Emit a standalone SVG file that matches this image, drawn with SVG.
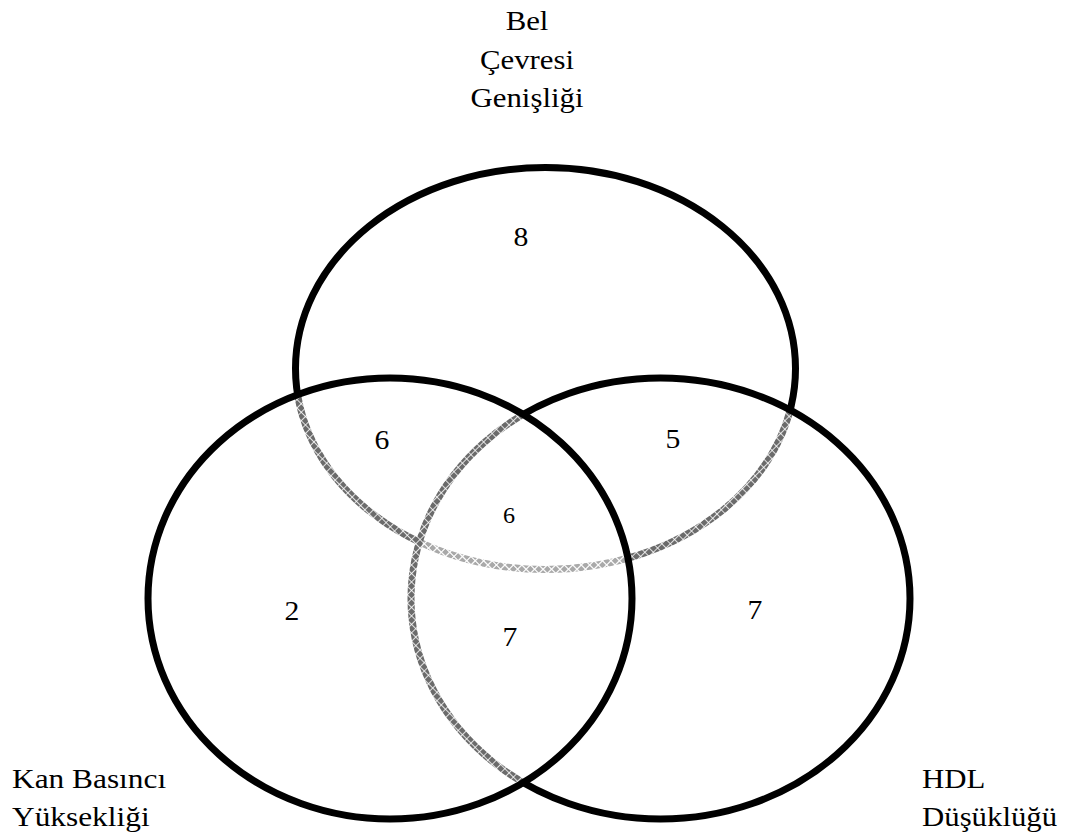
<svg xmlns="http://www.w3.org/2000/svg" width="1071" height="839" viewBox="0 0 1071 839">
<style>
.ring{stroke:#000;stroke-width:7}
.lbl{font-family:"Liberation Serif","Times New Roman",serif;font-size:28px;fill:#000}
.num{font-family:"Liberation Serif","Times New Roman",serif;font-size:27px;fill:#000;text-anchor:middle}
</style>
<defs>
<pattern id="hatch" width="6" height="6" patternUnits="userSpaceOnUse" patternTransform="rotate(45)">
<rect width="6" height="6" fill="#fff" fill-opacity="0.42"/>
<path d="M0 0.5H6M0.5 0V6" stroke="#fff" stroke-width="1" stroke-opacity="0.8"/>
</pattern>
</defs>
<rect width="1071" height="839" fill="#fff"/>
<g id="set-bel">
<ellipse class="ring" cx="545.5" cy="368.5" rx="250" ry="201" fill="none"/>
<g class="lbl" text-anchor="middle">
<text transform="translate(527,30) scale(1.1,1)">Bel</text>
<text transform="translate(527,69) scale(1.1,1)">Çevresi</text>
<text transform="translate(527,107) scale(1.1,1)">Genişliği</text>
</g>
</g>
<g id="set-hdl">
<ellipse class="ring" cx="660.5" cy="598.5" rx="249.5" ry="220.5" fill="url(#hatch)"/>
<g class="lbl">
<text transform="translate(922,788) scale(1.1,1)">HDL</text>
<text transform="translate(922,826) scale(1.1,1)">Düşüklüğü</text>
</g>
</g>
<g id="set-kan">
<ellipse class="ring" cx="390" cy="598.5" rx="242" ry="220.5" fill="url(#hatch)"/>
<g class="lbl">
<text transform="translate(12,788) scale(1.12,1)">Kan Basıncı</text>
<text transform="translate(12,826) scale(1.12,1)">Yüksekliği</text>
</g>
</g>
<g id="counts">
<text class="num" transform="translate(521,246) scale(1.1,1)">8</text>
<text class="num" transform="translate(382,449) scale(1.1,1)">6</text>
<text class="num" transform="translate(673,448) scale(1.1,1)">5</text>
<text class="num" transform="translate(509,523) scale(1.05,1)" style="font-size:23px">6</text>
<text class="num" transform="translate(292,620) scale(1.1,1)">2</text>
<text class="num" transform="translate(510,646) scale(1.1,1)">7</text>
<text class="num" transform="translate(755,619) scale(1.1,1)">7</text>
</g>
</svg>
